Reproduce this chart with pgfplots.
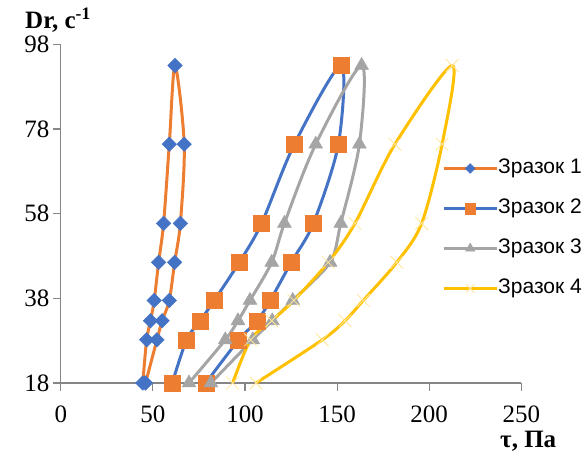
\documentclass[border=0pt]{standalone}
\usepackage{fontspec}
\setmainfont{Liberation Serif}
\newfontfamily\legfont{Liberation Sans}
\usepackage{pgfplots}
\pgfplotsset{compat=1.18}
\definecolor{c1}{HTML}{4472C4}
\definecolor{c2}{HTML}{ED7D31}
\definecolor{c3}{HTML}{A5A5A5}
\definecolor{c4}{HTML}{FFC000}
\definecolor{axgray}{HTML}{868686}

\begin{document}
\begin{tikzpicture}
\begin{axis}[
  scale only axis, width=460.5pt, height=338.7pt,
  xmin=0, xmax=250, ymin=18, ymax=98,
  xtick={0,50,...,250}, ytick={18,38,58,78,98},
  axis lines=left, axis line style={-, draw=axgray, line width=1.2pt},
  tick align=outside, major tick length=8pt,
  tick style={draw=axgray, line width=1.2pt},
  xticklabel={\pgfmathprintnumber[assume math mode=true]{\tick}},
  yticklabel={\pgfmathprintnumber[assume math mode=true]{\tick}},
  xticklabel style={font=\rmfamily\fontsize{25}{30}\selectfont, yshift=-11pt},
  yticklabel style={font=\rmfamily\fontsize{25}{30}\selectfont},
  clip=false,
  xlabel={\textbf{τ, Па}},
  ylabel={\textbf{Dr, с\textsuperscript{-1}}},
  every axis x label/.style={at={(axis description cs:0,0)}, anchor=base west,
    xshift=435.9pt, yshift=-65pt, font=\rmfamily\fontsize{25}{30}\selectfont},
  every axis y label/.style={at={(axis description cs:0,1)}, anchor=base west,
    xshift=-39.1pt, yshift=15.5pt, font=\rmfamily\fontsize{25}{30}\selectfont},
  legend style={draw=none, fill=none, at={(axis description cs:0,0)}, anchor=west,
    xshift=381.2pt, yshift=154.5pt, font=\legfont\fontsize{21}{25}\selectfont,
    inner sep=0pt, row sep=20pt,
    nodes={inner sep=0pt, text height=15pt, text depth=5pt},
    /tikz/every even column/.append style={column sep=5pt}},
  legend cell align=left,
  legend image code/.code={\draw[mark repeat=2,mark phase=2,#1]
    plot coordinates {(0pt,0pt)(26.5pt,0pt)(53pt,0pt)};},
  legend image post style={/tikz/every mark/.append style={scale=0.68}},
  every axis plot/.append style={line width=3pt, smooth},
]
\addplot[c2, mark=square*, mark size=5.1pt,
  mark options={rotate=45, draw=c1, fill=c1, line width=0.5pt}]
  coordinates{(44.5,18)(46.6,28.2)(48.7,32.7)(50.7,37.5)(53.1,46.5)(55.8,55.7)
              (58.9,74.4)(62,93)(67,74.4)(64.9,55.7)(61.8,46.5)(58.9,37.5)
              (55,32.7)(52.2,28.2)(46,18)};
\addlegendentry{Зразок 1}
\addplot[c1, mark=square*, mark size=8pt,
  mark options={draw=c2, fill=c2, line width=0.5pt}]
  coordinates{(60.5,18)(68.3,28.2)(75.7,32.7)(83.3,37.5)(96.9,46.5)(109,55.7)
              (126.8,74.4)(152.1,93)(150.7,74.4)(137.1,55.7)(125.1,46.5)
              (113.7,37.5)(106.7,32.7)(96.6,28.2)(78.7,18)};
\addlegendentry{Зразок 2}
\addplot[c3, mark=triangle*, mark size=8pt,
  mark options={draw=c3, fill=c3, line width=0.5pt}]
  coordinates{(69.6,18)(89.3,28.2)(96.2,32.7)(102.7,37.5)(114.5,46.5)(121.4,55.7)
              (138.4,74.4)(163.3,93)(162.1,74.4)(152,55.7)(146.2,46.5)
              (125.9,37.5)(114.8,32.7)(104.2,28.2)(81.5,18)};
\addlegendentry{Зразок 3}
\addplot[c4, mark=x, mark size=9pt,
  mark options={draw=c4!40, line width=0.8pt}]
  coordinates{(93.3,18)(103,28.2)(114.5,32.7)(126.5,37.5)(145.2,46.5)(159.7,55.7)
              (181.4,74.4)(212.5,93)(207,74.4)(195.9,55.7)(182.4,46.5)
              (164.2,37.5)(154.3,32.7)(142,28.2)(106,18)};
\addlegendentry{Зразок 4}
\end{axis}
\pgfresetboundingbox
\path[use as bounding box] (-60.8pt,-69pt) rectangle (526.2pt,383pt);
\end{tikzpicture}
\end{document}
